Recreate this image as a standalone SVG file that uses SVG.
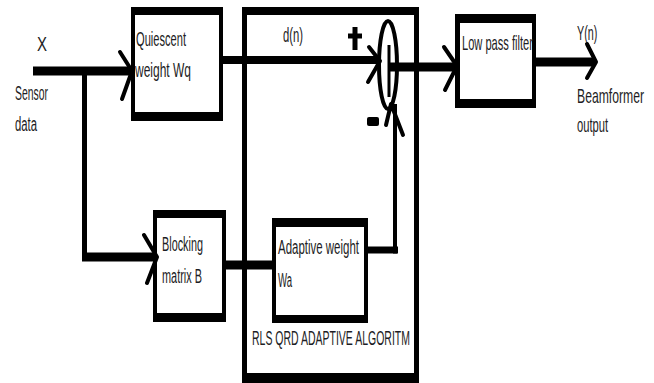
<svg xmlns="http://www.w3.org/2000/svg" width="654" height="383" viewBox="0 0 654 383">
<style>
.t{font-family:"Liberation Sans",Arial,sans-serif;font-size:20px;fill:#1d1d24}
.ln{stroke:#000;fill:none;stroke-linecap:butt}
.ch{stroke:#000;fill:none;stroke-width:4;stroke-linecap:round;stroke-linejoin:round}
</style>
<rect width="654" height="383" fill="#fff"/>
<g id="rls-box">
<rect x="242" y="7" width="177" height="376" fill="#000"/>
<rect x="247" y="15" width="167" height="358" fill="#fff"/>
<text class="t" x="252" y="345" textLength="158" lengthAdjust="spacingAndGlyphs">RLS QRD ADAPTIVE ALGORITM</text>
</g>
<g id="quiescent">
<rect x="131" y="7" width="92" height="114" fill="#000"/>
<rect x="135" y="15" width="84" height="97" fill="#fff"/>
<text class="t" x="136" y="46" textLength="50" lengthAdjust="spacingAndGlyphs">Quiescent</text>
<text class="t" x="135" y="77" textLength="56" lengthAdjust="spacingAndGlyphs">weight Wq</text>
</g>
<g id="blocking">
<rect x="153" y="210" width="73" height="112" fill="#000"/>
<rect x="157" y="218" width="65" height="95" fill="#fff"/>
<text class="t" x="162" y="251" textLength="41" lengthAdjust="spacingAndGlyphs">Blocking</text>
<text class="t" x="162" y="283" textLength="40" lengthAdjust="spacingAndGlyphs">matrix B</text>
</g>
<g id="adaptive">
<rect x="272" y="218" width="96" height="105" fill="#000"/>
<rect x="276" y="227" width="88" height="88" fill="#fff"/>
<text class="t" x="278" y="254" textLength="81" lengthAdjust="spacingAndGlyphs">Adaptive weight</text>
<text class="t" x="278" y="287" textLength="14" lengthAdjust="spacingAndGlyphs">Wa</text>
</g>
<g id="lowpass">
<rect x="455" y="14" width="81" height="94" fill="#000"/>
<rect x="460" y="23" width="72" height="76" fill="#fff"/>
<text class="t" transform="translate(462,50) scale(0.555,1)">Low pass filter</text>
</g>
<g id="summer">
<ellipse cx="388" cy="65" rx="9" ry="44" fill="none" stroke="#000" stroke-width="4"/>
<line class="ln" x1="389" y1="45" x2="389" y2="97" stroke-width="3"/>
<line class="ln" x1="355" y1="27" x2="355" y2="50" stroke-width="5" stroke-linecap="round"/>
<line class="ln" x1="348" y1="36" x2="362" y2="36" stroke-width="5" stroke-linecap="round"/>
<rect x="367" y="117" width="12" height="9" rx="2" fill="#000"/>
</g>
<g id="labels">
<text class="t" x="37" y="51" textLength="10" lengthAdjust="spacingAndGlyphs">X</text>
<text class="t" x="15" y="100" textLength="33" lengthAdjust="spacingAndGlyphs">Sensor</text>
<text class="t" x="15" y="131" textLength="22" lengthAdjust="spacingAndGlyphs">data</text>
<text class="t" x="283" y="42" textLength="20" lengthAdjust="spacingAndGlyphs">d(n)</text>
<text class="t" transform="translate(577,40) scale(0.54,1)">Y(n)</text>
<text class="t" transform="translate(577,103) scale(0.61,1)">Beamformer</text>
<text class="t" transform="translate(577,132) scale(0.56,1)">output</text>
</g>
<g id="connectors">
<line class="ln" x1="33" y1="71" x2="131" y2="71" stroke-width="9" stroke-linecap="round"/>
<polyline class="ch" points="120,52 132,71 122,99"/>
<line class="ln" x1="84.5" y1="71" x2="84.5" y2="257" stroke-width="5"/>
<line class="ln" x1="82" y1="257" x2="157" y2="257" stroke-width="9"/>
<polyline class="ch" points="144,235 157,257 147,283"/>
<line class="ln" x1="223" y1="60" x2="380" y2="60" stroke-width="8"/>
<polyline class="ch" points="369,47 380,61 368,82"/>
<line class="ln" x1="389" y1="67" x2="456" y2="67" stroke-width="9"/>
<polyline class="ch" points="444,47 457,66 445,90"/>
<line class="ln" x1="536" y1="62" x2="594" y2="62" stroke-width="9"/>
<polyline class="ch" points="587,44 596,62 587,78" stroke-width="5"/>
<line class="ln" x1="226" y1="265" x2="276" y2="265" stroke-width="9" stroke-linecap="round"/>
<line class="ln" x1="368" y1="250" x2="398" y2="250" stroke-width="7"/>
<line class="ln" x1="395" y1="253.5" x2="395" y2="104" stroke-width="4"/>
<polyline class="ch" points="386,125 391,104 403,135"/>
</g>
</svg>
